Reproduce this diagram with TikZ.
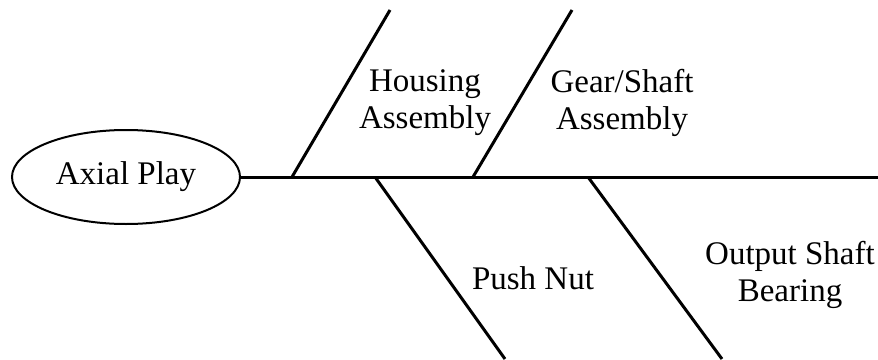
\documentclass[tikz,border=0pt]{standalone}
\usepackage{fontspec}
\setmainfont{Liberation Serif}
\usetikzlibrary{shapes.geometric}

\begin{document}
\begin{tikzpicture}[x=0.5pt, y=-0.5pt,
      effect/.style={draw, ellipse, line width=1pt, minimum width=114pt, minimum height=47pt, inner sep=0pt},
      cause/.style={align=center, font=\fontsize{16.5}{18.5}\selectfont},
      bone/.style={line width=1.5pt},
    ]
    \useasboundingbox (0,0) rectangle (878,359);
    \node[effect, font=\fontsize{16.5}{18.5}\selectfont] (ax) at (126,177) {Axial Play};
    \coordinate (tail) at (878,177);
    % upper causes
    \coordinate (h1) at (292,177);  \coordinate (h2) at (390,10);
    \coordinate (g1) at (473,177);  \coordinate (g2) at (572,10);
    % lower causes
    \coordinate (p1) at (375,177);  \coordinate (p2) at (505,359);
    \coordinate (o1) at (588,177);  \coordinate (o2) at (722,359);
    \draw[bone] (ax) -- (tail);
    \draw[bone] (h1) -- (h2);
    \draw[bone] (g1) -- (g2);
    \draw[bone] (p1) -- (p2);
    \draw[bone] (o1) -- (o2);
    \node[cause] (hs) at (425,103) {Housing\\Assembly};
    \node[cause] (gs) at (622,103) {Gear/Shaft\\Assembly};
    \node[cause] (pn) at (533,278) {Push Nut};
    \node[cause] (os) at (790,275) {Output Shaft\\Bearing};
  \end{tikzpicture}
\end{document}
